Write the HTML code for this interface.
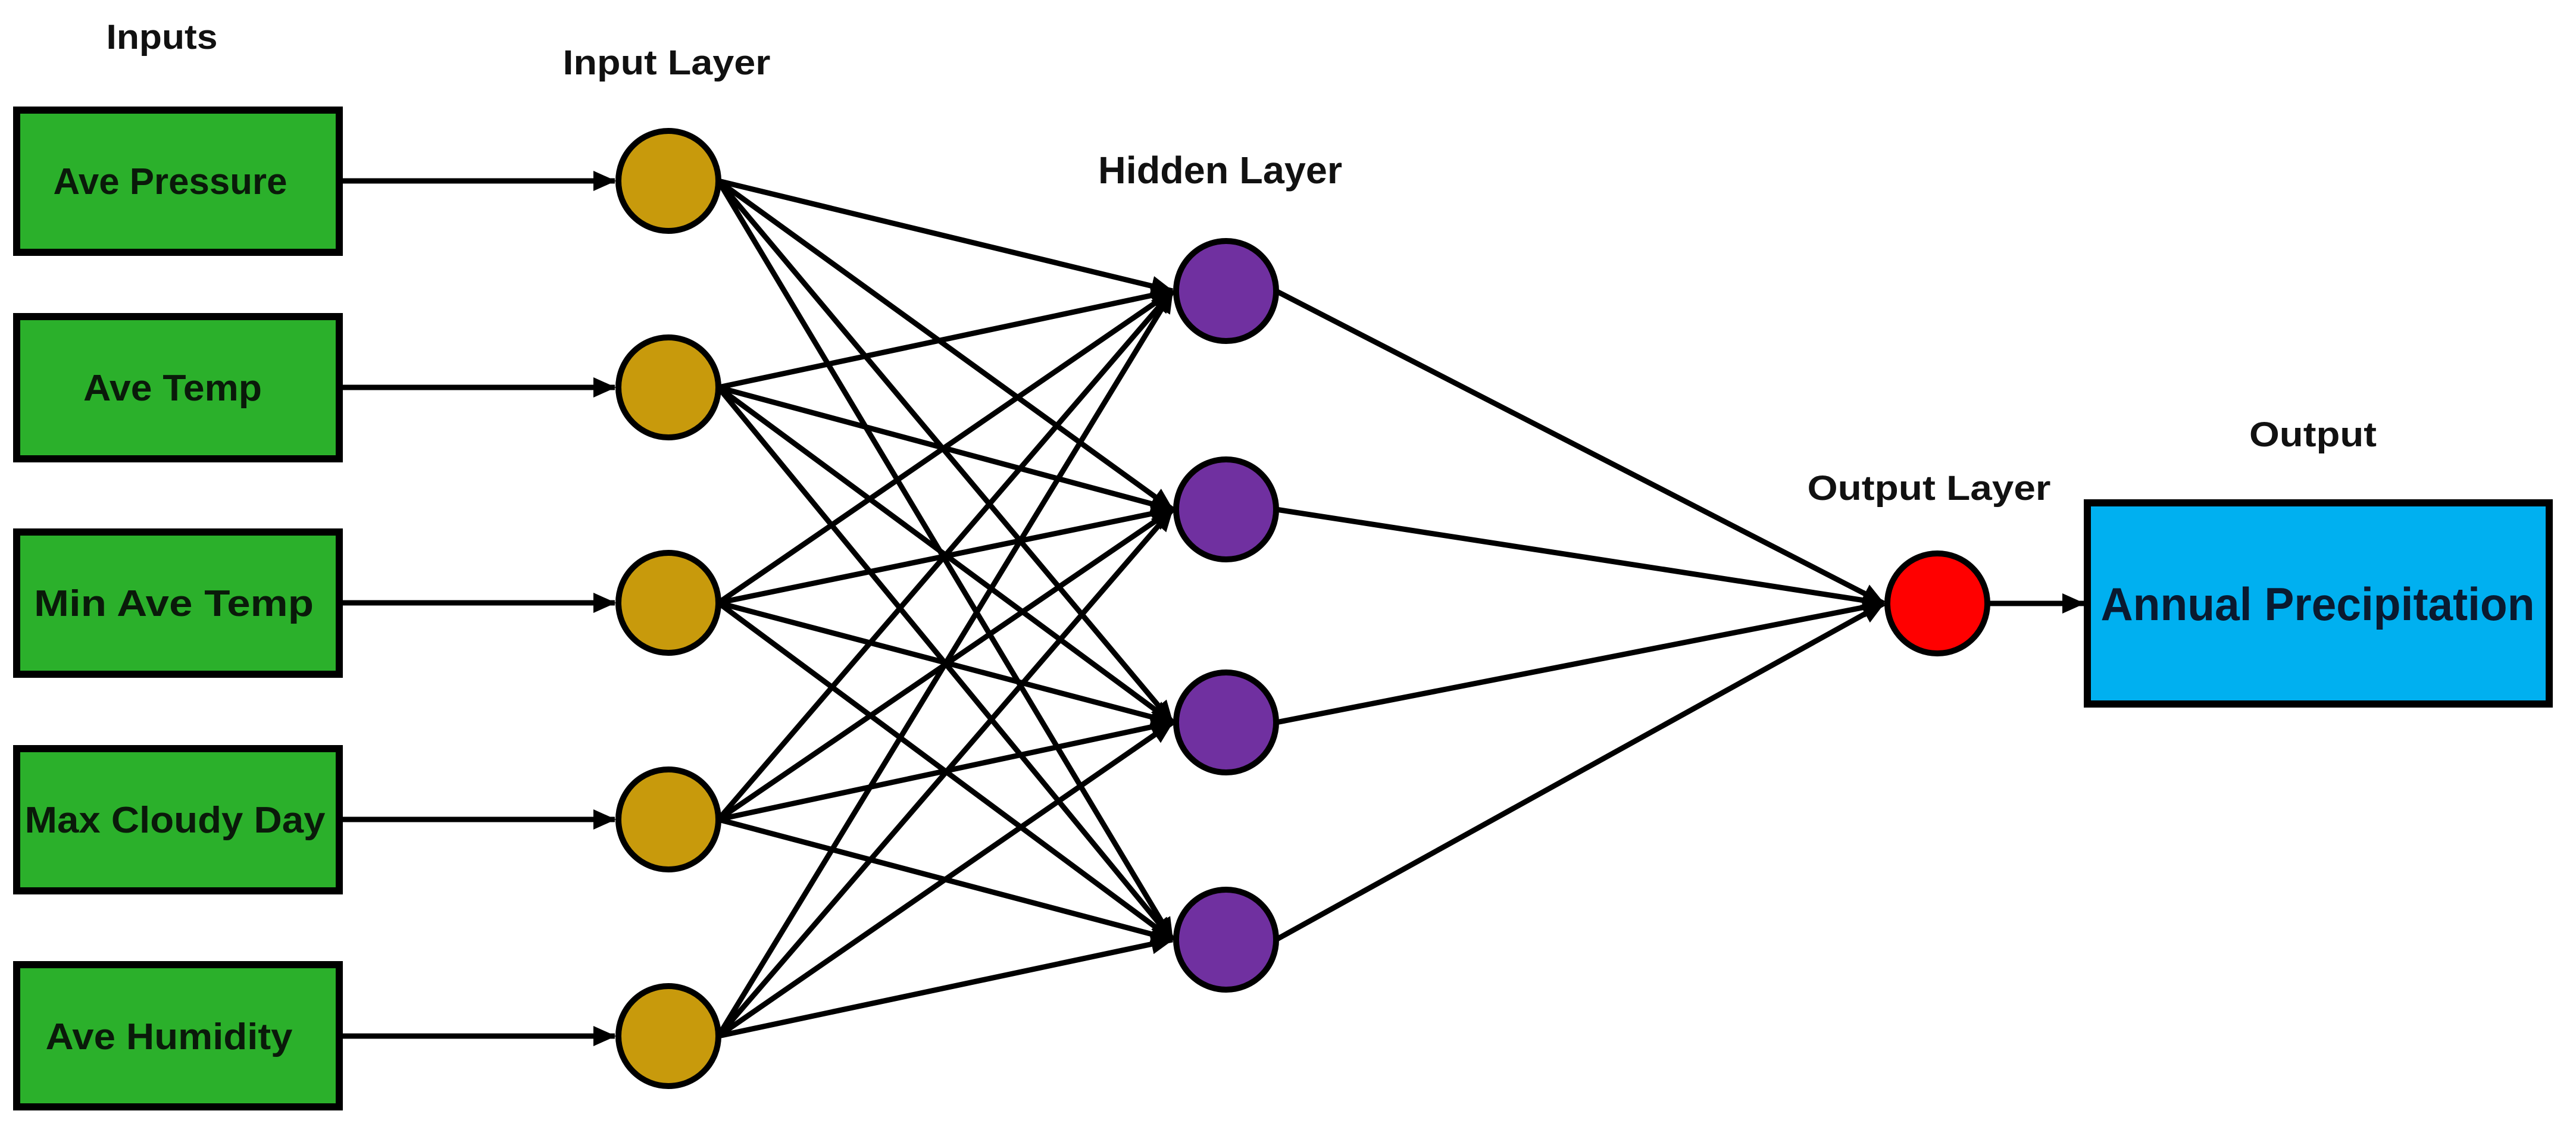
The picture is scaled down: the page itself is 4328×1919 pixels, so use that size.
<!DOCTYPE html>
<html><head><meta charset="utf-8"><style>html,body{margin:0;padding:0;background:#fff}svg{display:block}</style></head>
<body>
<svg xmlns="http://www.w3.org/2000/svg" width="4328" height="1919" viewBox="0 0 4328 1919" font-family="Liberation Sans, sans-serif" font-weight="bold">
<defs>
<marker id="ah" markerUnits="userSpaceOnUse" markerWidth="40" markerHeight="40" refX="36" refY="20" orient="auto"><path d="M0,3 L38,20 L0,37 Z" fill="#000"/></marker>
</defs>
<rect width="4328" height="1919" fill="#fff"/>
<g id="lines" stroke="#000" stroke-width="9" fill="none"></g>
<g font-size="58" fill="#111" text-anchor="middle">
<text x="272" y="82" textLength="187" lengthAdjust="spacingAndGlyphs">Inputs</text>
<text x="1120" y="125" textLength="349" lengthAdjust="spacingAndGlyphs">Input Layer</text>
<text x="2050" y="308" font-size="64" textLength="410" lengthAdjust="spacingAndGlyphs">Hidden Layer</text>
<text x="3241" y="840" textLength="409" lengthAdjust="spacingAndGlyphs">Output  Layer</text>
<text x="3886" y="750" textLength="214" lengthAdjust="spacingAndGlyphs">Output</text>
</g>
<g stroke="#000" stroke-width="12" fill="#2bb02b">
<rect x="28" y="185" width="542" height="239"/>
<rect x="28" y="532" width="542" height="239"/>
<rect x="28" y="894" width="542" height="239"/>
<rect x="28" y="1258" width="542" height="239"/>
<rect x="28" y="1621" width="542" height="239"/>
</g>
<rect x="3507" y="845" width="776" height="338" fill="#00b0f0" stroke="#000" stroke-width="12"/>
<g font-size="62" fill="#0a1a0a" text-anchor="middle">
<text x="286" y="326" textLength="393" lengthAdjust="spacingAndGlyphs">Ave Pressure</text>
<text x="290" y="673" textLength="300" lengthAdjust="spacingAndGlyphs">Ave Temp</text>
<text x="292" y="1035" textLength="470" lengthAdjust="spacingAndGlyphs">Min Ave Temp</text>
<text x="294" y="1399" textLength="505" lengthAdjust="spacingAndGlyphs">Max Cloudy Day</text>
<text x="284" y="1763" textLength="415" lengthAdjust="spacingAndGlyphs">Ave Humidity</text>
</g>
<text x="3894" y="1042" font-size="78" fill="#0a1a30" text-anchor="middle" textLength="729" lengthAdjust="spacingAndGlyphs">Annual Precipitation</text>
<g id="nodes" stroke="#000" stroke-width="10"></g>
<script>
var ns="http://www.w3.org/2000/svg";
var I=[304,651,1013,1377,1741], H=[489,856,1214,1579];
var ix=1123, hx=2060, ox=3255, oy=1014, r=88;
var L=document.getElementById('lines'), N=document.getElementById('nodes');
function line(x1,y1,x2,y2,arrow){var l=document.createElementNS(ns,'line');l.setAttribute('x1',x1);l.setAttribute('y1',y1);l.setAttribute('x2',x2);l.setAttribute('y2',y2);if(arrow)l.setAttribute('marker-end','url(#ah)');L.appendChild(l);}
I.forEach(function(y){line(576,y,ix-r-2,y,true);});
I.forEach(function(y){H.forEach(function(h){line(ix+r-4,y,hx-r-2,h,true);});});
H.forEach(function(h){line(hx+r-4,h,ox-r-2,oy,true);});
line(ox+r,oy,3501,oy,true);
function circ(x,y,f){var c=document.createElementNS(ns,'circle');c.setAttribute('cx',x);c.setAttribute('cy',y);c.setAttribute('r',r-4);c.setAttribute('fill',f);N.appendChild(c);}
I.forEach(function(y){circ(ix,y,'#c89a0c');});
H.forEach(function(h){circ(hx,h,'#7030a0');});
circ(ox,oy,'#ff0000');
</script>
</svg>
</body></html>
